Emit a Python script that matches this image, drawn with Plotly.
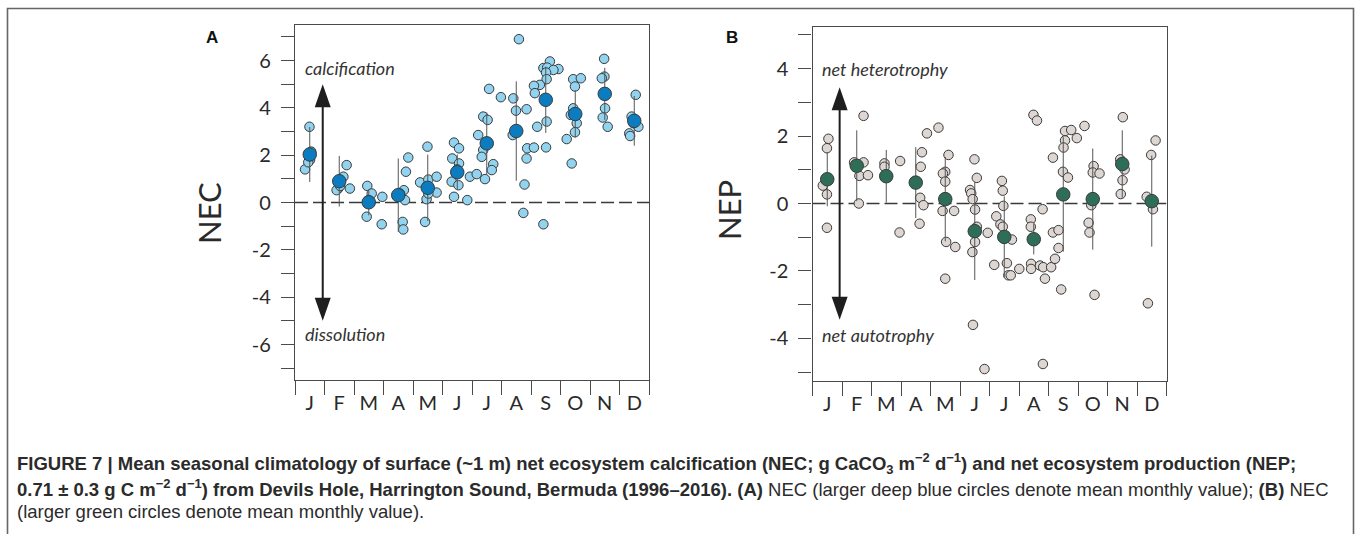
import plotly.graph_objects as go

W, H = 1358, 534

months = ["J", "F", "M", "A", "M", "J", "J", "A", "S", "O", "N", "D"]

# ---------------- Panel A: NEC ----------------
# individual observations: month index, jitter within month, value
nec_month = ([0]*6 + [1]*6 + [2]*6 + [3]*7 + [4]*8 + [5]*10 + [6]*11 + [7]*9 + [8]*15
             + [9]*9 + [10]*6 + [11]*6)
nec_jit = [-0.16, -0.01, 0.01, 0.03, -0.05, 0.05,
           -0.03, 0.14, 0.25, 0.36, -0.09, 0.03,
           -0.05, 0.10, -0.07, 0.44, 0.46, -0.01,
           0.34, 0.26, 0.19, 0.23, 0.15, 0.17, 0.06,
           -0.01, -0.26, 0.02, 0.30, 0.30, -0.04, -0.09, 0.02,
           -0.11, 0.06, -0.17, 0.06, -0.19, 0.04, -0.11, 0.34, 0.0, 0.43,
           0.08, -0.12, 0.03, -0.29, -0.12, -0.17, 0.22, 0.17, -0.06, -0.34, 0.48,
           0.09, -0.10, -0.01, 0.35, -0.12, 0.37, 0.35, 0.28, 0.24,
           0.14, -0.08, 0.05, 0.43, 0.26, 0.01, 0.03, -0.20, -0.40, -0.37, 0.03, -0.29, 0.01, -0.08, -0.40,
           -0.07, 0.19, -0.01, -0.07, -0.15, 0.05, -0.01, -0.29, -0.12,
           -0.02, -0.01, -0.10, 0.01, -0.07, 0.10,
           0.05, -0.09, -0.17, -0.14, 0.14, -0.03]
nec_val = [1.4, 3.2, 1.8, 2.0, 1.7, 2.15,
           0.6, 1.09, 1.58, 0.59, 0.52, 0.7,
           0.7, 0.38, -0.6, -0.92, 0.24, 0.1,
           1.9, 1.3, 0.52, 0.1, -0.82, -1.14, 0.38,
           2.36, 0.85, 0.97, 1.09, 0.42, 0.14, -0.82, 0.38,
           2.53, 2.29, 1.86, 1.65, 0.88, 0.73, 0.24, 0.1, 1.4, 1.09,
           4.8, 3.63, 3.49, 2.85, 2.22, 1.93, 1.62, 1.37, 0.99, 1.2, 4.45,
           6.9, 4.4, 3.88, 3.94, 2.85, 2.29, 1.86, 0.76, -0.44,
           5.96, 5.68, 5.7, 5.64, 5.6, 5.49, 5.21, 4.97, 4.93, 4.62, 3.42, 3.2, 2.33, -0.92, 2.32,
           5.21, 5.25, 4.9, 3.98, 3.7, 3.35, 2.97, 2.68, 1.65,
           6.07, 5.32, 5.25, 3.98, 3.59, 3.2,
           4.55, 3.63, 2.92, 2.81, 3.2, 3.35]
nec_mean = [2.03, 0.90, 0.01, 0.31, 0.62, 1.28, 2.50, 3.02, 4.34, 3.74, 4.59, 3.45]
nec_sd = [1.16, 1.07, 0.55, 1.55, 1.40, 0.75, 1.30, 2.10, 1.40, 1.00, 1.10, 1.05]

# ---------------- Panel B: NEP ----------------
nep_month = ([0]*5 + [1]*6 + [2]*4 + [3]*6 + [4]*10 + [5]*12 + [6]*11 + [7]*12 + [8]*14
             + [9]*8 + [10]*5 + [11]*5)
nep_jit = [0.04, -0.01, -0.15, -0.01, -0.01,
           0.23, -0.09, 0.23, 0.09, 0.38, 0.07,
           -0.06, -0.06, 0.47, 0.45,
           0.38, 0.21, 0.17, 0.15, 0.26, 0.13,
           -0.23, 0.11, 0.0, -0.08, 0.0, -0.09, 0.30, 0.03, 0.34, 0.0,
           -0.01, 0.07, -0.16, -0.12, -0.07, 0.01, 0.07, 0.01, -0.08, 0.44, -0.06, 0.33,
           -0.08, -0.05, -0.03, -0.27, -0.13, -0.05, 0.26, -0.34, 0.09, 0.14, 0.22,
           -0.01, 0.11, 0.30, -0.10, -0.10, -0.09, -0.09, 0.21, 0.32, 0.38, 0.31, -0.49,
           0.06, 0.27, 0.46, 0.06, 0.01, -0.35, -0.01, 0.16, -0.35, -0.16, -0.16, -0.07, -0.41, -0.28,
           -0.28, 0.03, 0.0, 0.23, -0.05, -0.14, -0.11, 0.06,
           0.02, -0.07, 0.08, 0.01, -0.05,
           0.13, -0.02, -0.17, 0.04, -0.13]
nep_val = [1.92, 1.64, 0.53, 0.27, -0.72,
           2.6, 1.22, 1.22, 0.82, 0.84, 0.0,
           1.19, 1.09, 1.26, -0.86,
           2.08, 1.52, 1.09, 0.17, -0.05, -0.6,
           2.25, 1.44, 0.94, 0.89, 0.65, -0.22, -0.22, -1.14, -1.29, -2.23,
           1.31, 0.76, 0.4, 0.3, 0.13, -0.18, -0.69, -1.14, -1.44, -0.87, -3.6, -4.91,
           0.67, 0.38, -0.07, -0.38, -0.62, -0.69, -1.07, -1.82, -1.77, -2.13, -2.13,
           2.63, 2.46, -0.17, -0.47, -0.69, -1.79, -1.94, -1.84, -1.89, -2.23, -4.76, -1.94,
           2.15, 2.18, 1.94, 1.87, 1.66, 1.36, 0.94, 0.77, -0.86, -0.79, -1.32, -2.55, -1.89, -1.64,
           2.3, 1.11, 0.92, 0.89, -0.05, -0.57, -0.86, -2.71,
           2.56, 1.31, 1.01, 0.69, 0.28,
           1.87, 1.44, 0.2, -0.17, -2.96]
nep_mean = [0.72, 1.12, 0.81, 0.62, 0.13, -0.82, -0.99, -1.06, 0.27, 0.13, 1.17, 0.07]
nep_sd = [0.80, 1.05, 0.78, 1.05, 1.25, 1.45, 1.20, 0.45, 1.70, 1.50, 1.00, 1.35]

nec_ticks = [-6, -4, -2, 0, 2, 4, 6]
nec_minor = [-7, -5, -3, -1, 1, 3, 5, 7]
nep_ticks = [-4, -2, 0, 2, 4]
nep_minor = [-5, -3, -1, 1, 3, 5]

# ---------------- styling ----------------
PT_OUT = "#3a3a3a"
BLUE_LIGHT = "#92d3f0"
BLUE_DEEP = "#0b7cc0"
GRAY_LIGHT = "#ddd6d2"
GREEN = "#2e6e58"
AX = "#4a4a4a"
TICKFONT = dict(family="Lato, Open Sans, sans-serif", size=20, color="#2a2a2a")


def px_x(p):
    return p / W


def px_y(p):
    return 1 - p / H


centers = [i + 0.5 for i in range(12)]

fig = go.Figure()

# panel A
fig.add_trace(go.Scatter(
    x=[nec_month[i] + 0.5 + nec_jit[i] for i in range(len(nec_val))], y=nec_val,
    mode="markers", xaxis="x", yaxis="y",
    marker=dict(size=9.5, color=BLUE_LIGHT, line=dict(color=PT_OUT, width=1)),
    showlegend=False, hoverinfo="skip"))
fig.add_trace(go.Scatter(
    x=centers, y=nec_mean, mode="markers", xaxis="x", yaxis="y",
    error_y=dict(type="data", array=nec_sd, color="#555555", thickness=1, width=0),
    marker=dict(size=13.5, color=BLUE_DEEP, line=dict(color=PT_OUT, width=1)),
    showlegend=False, hoverinfo="skip"))

# panel B
fig.add_trace(go.Scatter(
    x=[nep_month[i] + 0.5 + nep_jit[i] for i in range(len(nep_val))], y=nep_val,
    mode="markers", xaxis="x2", yaxis="y2",
    marker=dict(size=9.5, color=GRAY_LIGHT, line=dict(color=PT_OUT, width=1)),
    showlegend=False, hoverinfo="skip"))
fig.add_trace(go.Scatter(
    x=centers, y=nep_mean, mode="markers", xaxis="x2", yaxis="y2",
    error_y=dict(type="data", array=nep_sd, color="#555555", thickness=1, width=0),
    marker=dict(size=13.5, color=GREEN, line=dict(color=PT_OUT, width=1)),
    showlegend=False, hoverinfo="skip"))


def xaxis_cfg(dom):
    return dict(domain=dom, range=[0, 12], showgrid=False, zeroline=False,
                showline=True, linecolor=AX, linewidth=1.3, mirror=True,
                tickmode="array", tickvals=centers, ticktext=months,
                ticks="outside", ticklen=5, tickcolor="rgba(0,0,0,0)",
                tickfont=TICKFONT,
                minor=dict(tickmode="array", tickvals=list(range(13)), ticks="outside",
                           ticklen=14, tickcolor=AX, tickwidth=1, showgrid=False))


def yaxis_cfg(dom, rng, ticks, minor, anchor):
    return dict(domain=dom, range=rng, anchor=anchor, showgrid=False, zeroline=False,
                showline=True, linecolor=AX, linewidth=1.3, mirror=True,
                tickmode="array", tickvals=ticks, ticktext=[str(t) for t in ticks],
                ticks="outside", ticklen=13, tickcolor=AX, tickwidth=1,
                ticklabelstandoff=6, tickfont=TICKFONT,
                minor=dict(tickmode="array", tickvals=minor, ticks="outside",
                           ticklen=13, tickcolor=AX, tickwidth=1, showgrid=False))


fig.update_layout(
    width=W, height=H, margin=dict(l=0, r=0, t=0, b=0),
    paper_bgcolor="white", plot_bgcolor="white",
    xaxis=dict(**xaxis_cfg([px_x(295), px_x(649)]), anchor="y"),
    yaxis=yaxis_cfg([px_y(380), px_y(25)], [-7.5, 7.5], nec_ticks, nec_minor, "x"),
    xaxis2=dict(**xaxis_cfg([px_x(812.5), px_x(1166.5)]), anchor="y2"),
    yaxis2=yaxis_cfg([px_y(380.5), px_y(26.5)], [-5.25, 5.25], nep_ticks, nep_minor, "x2"),
)

shapes = []
# zero dashed lines
for xr, yr in (("x", "y"), ("x2", "y2")):
    shapes.append(dict(type="line", xref=xr, yref=yr, x0=0, x1=12, y0=0, y1=0,
                       line=dict(color="#3a3a3a", width=1.5, dash="13px,5px"), layer="below"))


def double_arrow(xr, yr, x, tip):
    out = [dict(type="line", xref=xr, yref=yr, x0=x, x1=x, y0=-tip * 0.9, y1=tip * 0.9,
                line=dict(color="#1e1e1e", width=2))]
    out.append(dict(type="path", xref=xr, yref=yr, xsizemode="pixel", ysizemode="pixel",
                    xanchor=x, yanchor=tip, path="M0,0 L-8,-23 L8,-23 Z",
                    fillcolor="#1e1e1e", line=dict(width=0)))
    out.append(dict(type="path", xref=xr, yref=yr, xsizemode="pixel", ysizemode="pixel",
                    xanchor=x, yanchor=-tip, path="M0,0 L-8,23 L8,23 Z",
                    fillcolor="#1e1e1e", line=dict(width=0)))
    return out


shapes += double_arrow("x", "y", 0.94, 5.0)
shapes += double_arrow("x2", "y2", 0.92, 3.45)
# outer figure frame
shapes.append(dict(type="rect", xref="paper", yref="paper",
                   x0=px_x(7.5), x1=px_x(1353.5), y0=-0.1, y1=px_y(8.5),
                   line=dict(color="#666666", width=1.6)))
fig.update_layout(shapes=shapes)

ITAL = dict(family="Lato, Open Sans, sans-serif", size=18, color="#333333")
TITLE = dict(family="Lato, Open Sans, sans-serif", size=31, color="#2a2a2a")
LETTER = dict(family="Liberation Sans, Arial, sans-serif", size=17, color="#111")
ann = [
    dict(x=0.26, y=5.68, xref="x", yref="y", text="<i>calcification</i>", showarrow=False,
         xanchor="left", yanchor="middle", font=ITAL),
    dict(x=0.27, y=-5.55, xref="x", yref="y", text="<i>dissolution</i>", showarrow=False,
         xanchor="left", yanchor="middle", font=ITAL),
    dict(x=0.27, y=4.0, xref="x2", yref="y2", text="<i>net heterotrophy</i>", showarrow=False,
         xanchor="left", yanchor="middle", font=ITAL),
    dict(x=0.27, y=-3.89, xref="x2", yref="y2", text="<i>net autotrophy</i>", showarrow=False,
         xanchor="left", yanchor="middle", font=ITAL),
    # axis titles
    dict(x=px_x(209), y=px_y(213), xref="paper", yref="paper", text="NEC", textangle=-90,
         xanchor="center", yanchor="middle", showarrow=False, font=TITLE),
    dict(x=px_x(729), y=px_y(210), xref="paper", yref="paper", text="NEP", textangle=-90,
         xanchor="center", yanchor="middle", showarrow=False, font=TITLE),
    # panel letters
    dict(x=px_x(212), y=px_y(37), xref="paper", yref="paper", text="<b>A</b>",
         xanchor="center", yanchor="middle", showarrow=False, font=LETTER),
    dict(x=px_x(732), y=px_y(37), xref="paper", yref="paper", text="<b>B</b>",
         xanchor="center", yanchor="middle", showarrow=False, font=LETTER),
]

CAP = dict(family="Liberation Sans, Arial, sans-serif", size=18.5, color="#2b2b2b")
cap_lines = [
    "<b>FIGURE 7 | Mean seasonal climatology of surface (~1 m) net ecosystem calcification "
    "(NEC; g CaCO<sub>3</sub> m<sup>\u22122</sup> d<sup>\u22121</sup>) and net ecosystem production (NEP;</b>",
    "<b>0.71 \u00b1 0.3 g C m<sup>\u22122</sup> d<sup>\u22121</sup>) from Devils Hole, Harrington Sound, "
    "Bermuda (1996\u20132016). (A)</b> NEC (larger deep blue circles denote mean monthly value); "
    "<b>(B)</b> NEC",
    "(larger green circles denote mean monthly value).",
]
for txt, yc in zip(cap_lines, (463, 488, 511)):
    ann.append(dict(x=px_x(15), y=px_y(yc), xref="paper", yref="paper", text=txt,
                    showarrow=False, xanchor="left", yanchor="middle", align="left", font=CAP))

fig.update_layout(annotations=ann)

fig.write_html("out.html", config={"displayModeBar": False},
               post_script="document.body.style.margin='0';")
